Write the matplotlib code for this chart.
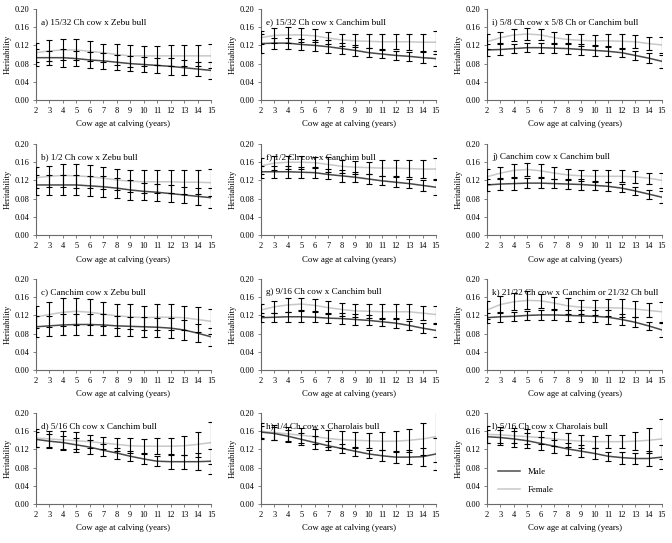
import matplotlib
matplotlib.use("Agg")
import matplotlib.pyplot as plt
from matplotlib.lines import Line2D

plt.rcParams['font.family'] = ['Liberation Serif', 'DejaVu Serif']

ages = [2, 3, 4, 5, 6, 7, 8, 9, 10, 11, 12, 13, 14, 15]
y_ticks = [0.00, 0.04, 0.08, 0.12, 0.16, 0.20]

# ---- a) ----
title_a = "a) 15/32 Ch cow x Zebu bull"
male_a = [0.093, 0.093, 0.093, 0.091, 0.088, 0.086, 0.083, 0.080, 0.078, 0.076, 0.074, 0.071, 0.068, 0.065]
female_a = [0.104, 0.108, 0.110, 0.110, 0.107, 0.104, 0.100, 0.097, 0.097, 0.097, 0.097, 0.097, 0.097, 0.097]
male_err_a = [0.019, 0.015, 0.020, 0.016, 0.017, 0.017, 0.016, 0.016, 0.016, 0.017, 0.018, 0.016, 0.016, 0.018]
female_err_a = [0.021, 0.023, 0.023, 0.023, 0.022, 0.020, 0.022, 0.024, 0.022, 0.021, 0.023, 0.023, 0.023, 0.027]

# ---- e) ----
title_e = "e) 15/32 Ch cow x Canchim bull"
male_e = [0.124, 0.125, 0.125, 0.122, 0.120, 0.117, 0.113, 0.109, 0.104, 0.101, 0.098, 0.096, 0.093, 0.091]
female_e = [0.137, 0.142, 0.143, 0.143, 0.141, 0.136, 0.132, 0.130, 0.129, 0.128, 0.128, 0.128, 0.127, 0.127]
male_err_e = [0.020, 0.012, 0.012, 0.012, 0.012, 0.014, 0.012, 0.012, 0.010, 0.009, 0.009, 0.010, 0.012, 0.016]
female_err_e = [0.015, 0.016, 0.017, 0.015, 0.014, 0.013, 0.014, 0.014, 0.015, 0.017, 0.017, 0.018, 0.019, 0.025]

# ---- i) ----
title_i = "i) 5/8 Ch cow x 5/8 Ch or Canchim bull"
male_i = [0.110, 0.111, 0.113, 0.115, 0.115, 0.114, 0.113, 0.111, 0.109, 0.107, 0.104, 0.098, 0.092, 0.085]
female_i = [0.128, 0.137, 0.143, 0.145, 0.143, 0.137, 0.133, 0.131, 0.130, 0.130, 0.129, 0.128, 0.124, 0.121]
male_err_i = [0.0125, 0.0115, 0.010, 0.0095, 0.011, 0.011, 0.012, 0.011, 0.0116, 0.011, 0.009, 0.010, 0.0114, 0.015]
female_err_i = [0.016, 0.0125, 0.014, 0.013, 0.012, 0.013, 0.011, 0.013, 0.012, 0.014, 0.015, 0.014, 0.015, 0.017]

# ---- b) ----
title_b = "b) 1/2 Ch cow x Zebu bull"
male_b = [0.110, 0.110, 0.110, 0.110, 0.108, 0.106, 0.103, 0.099, 0.096, 0.094, 0.091, 0.088, 0.085, 0.082]
female_b = [0.126, 0.129, 0.131, 0.130, 0.128, 0.125, 0.121, 0.118, 0.117, 0.117, 0.117, 0.116, 0.116, 0.115]
male_err_b = [0.022, 0.022, 0.022, 0.022, 0.022, 0.023, 0.022, 0.021, 0.019, 0.019, 0.019, 0.018, 0.019, 0.022]
female_err_b = [0.023, 0.023, 0.026, 0.027, 0.025, 0.024, 0.023, 0.024, 0.025, 0.025, 0.025, 0.026, 0.026, 0.029]

# ---- f) ----
title_f = "f) 1/2 Ch cow x Canchim bull"
male_f = [0.139, 0.139, 0.139, 0.138, 0.137, 0.133, 0.130, 0.127, 0.123, 0.119, 0.116, 0.113, 0.109, 0.105]
female_f = [0.152, 0.158, 0.160, 0.160, 0.159, 0.155, 0.151, 0.149, 0.148, 0.147, 0.147, 0.146, 0.145, 0.145]
male_err_f = [0.013, 0.013, 0.013, 0.012, 0.0125, 0.011, 0.013, 0.011, 0.012, 0.010, 0.011, 0.010, 0.012, 0.017]
female_err_f = [0.018, 0.016, 0.014, 0.014, 0.012, 0.016, 0.014, 0.014, 0.013, 0.017, 0.017, 0.018, 0.019, 0.0235]

# ---- j) ----
title_j = "j) Canchim cow x Canchim bull"
male_j = [0.110, 0.112, 0.113, 0.114, 0.114, 0.113, 0.112, 0.111, 0.109, 0.107, 0.103, 0.097, 0.090, 0.083]
female_j = [0.128, 0.136, 0.142, 0.144, 0.141, 0.136, 0.132, 0.130, 0.129, 0.129, 0.129, 0.128, 0.125, 0.120]
male_err_j = [0.0125, 0.013, 0.013, 0.011, 0.011, 0.010, 0.011, 0.012, 0.010, 0.0095, 0.009, 0.009, 0.010, 0.0134]
female_err_j = [0.016, 0.0135, 0.015, 0.014, 0.014, 0.014, 0.012, 0.012, 0.013, 0.013, 0.013, 0.013, 0.012, 0.017]

# ---- c) ----
title_c = "c) Canchim cow x Zebu bull"
male_c = [0.095, 0.097, 0.099, 0.100, 0.100, 0.099, 0.097, 0.096, 0.095, 0.094, 0.092, 0.088, 0.081, 0.073]
female_c = [0.1165, 0.122, 0.127, 0.129, 0.127, 0.123, 0.119, 0.117, 0.115, 0.116, 0.116, 0.115, 0.111, 0.107]
male_err_c = [0.023, 0.022, 0.023, 0.024, 0.024, 0.023, 0.022, 0.021, 0.022, 0.021, 0.022, 0.022, 0.020, 0.020]
female_err_c = [0.024, 0.028, 0.031, 0.029, 0.028, 0.026, 0.026, 0.027, 0.026, 0.028, 0.028, 0.026, 0.027, 0.027]

# ---- g) ----
title_g = "g) 9/16 Ch cow x Canchim bull"
male_g = [0.115, 0.116, 0.117, 0.117, 0.116, 0.114, 0.113, 0.111, 0.109, 0.106, 0.103, 0.098, 0.092, 0.087]
female_g = [0.132, 0.139, 0.143, 0.145, 0.142, 0.137, 0.133, 0.130, 0.129, 0.128, 0.128, 0.128, 0.125, 0.122]
male_err_g = [0.010, 0.010, 0.011, 0.012, 0.011, 0.0114, 0.012, 0.011, 0.011, 0.009, 0.0114, 0.010, 0.011, 0.014]
female_err_g = [0.0135, 0.013, 0.0145, 0.013, 0.013, 0.014, 0.0135, 0.014, 0.015, 0.016, 0.016, 0.016, 0.016, 0.019]

# ---- k) ----
title_k = "k) 21/32 Ch cow x Canchim or 21/32 Ch bull"
male_k = [0.115, 0.117, 0.118, 0.120, 0.121, 0.121, 0.120, 0.119, 0.118, 0.116, 0.111, 0.105, 0.097, 0.088]
female_k = [0.132, 0.144, 0.150, 0.153, 0.152, 0.147, 0.141, 0.138, 0.137, 0.137, 0.136, 0.134, 0.131, 0.128]
male_err_k = [0.011, 0.011, 0.010, 0.010, 0.011, 0.011, 0.012, 0.0135, 0.013, 0.015, 0.012, 0.011, 0.009, 0.015]
female_err_k = [0.019, 0.018, 0.0185, 0.020, 0.015, 0.013, 0.018, 0.016, 0.017, 0.018, 0.019, 0.018, 0.0155, 0.0215]

# ---- d) ----
title_d = "d) 5/16 Ch cow x Canchim bull"
male_d = [0.142, 0.138, 0.135, 0.130, 0.125, 0.118, 0.112, 0.105, 0.099, 0.094, 0.093, 0.093, 0.093, 0.094]
female_d = [0.145, 0.143, 0.141, 0.139, 0.137, 0.134, 0.131, 0.128, 0.127, 0.127, 0.127, 0.128, 0.131, 0.135]
male_err_d = [0.017, 0.016, 0.0155, 0.015, 0.015, 0.013, 0.012, 0.0105, 0.0104, 0.0106, 0.015, 0.015, 0.018, 0.027]
female_err_d = [0.020, 0.018, 0.020, 0.0185, 0.015, 0.014, 0.015, 0.016, 0.0155, 0.0176, 0.0176, 0.021, 0.028, 0.046]

# ---- h) ----
title_h = "h) 1/4 Ch cow x Charolais bull"
male_h = [0.158, 0.155, 0.149, 0.142, 0.135, 0.128, 0.122, 0.116, 0.110, 0.106, 0.103, 0.103, 0.104, 0.110]
female_h = [0.160, 0.157, 0.154, 0.151, 0.148, 0.144, 0.141, 0.140, 0.139, 0.138, 0.138, 0.140, 0.143, 0.148]
male_err_h = [0.014, 0.014, 0.013, 0.013, 0.0134, 0.010, 0.010, 0.010, 0.008, 0.012, 0.012, 0.015, 0.020, 0.0345]
female_err_h = [0.017, 0.017, 0.016, 0.016, 0.016, 0.018, 0.019, 0.018, 0.017, 0.020, 0.022, 0.025, 0.036, 0.056]

# ---- l) ----
title_l = "l) 5/16 Ch cow x Charolais bull"
male_l = [0.148, 0.146, 0.143, 0.139, 0.133, 0.127, 0.121, 0.116, 0.111, 0.105, 0.102, 0.100, 0.100, 0.103]
female_l = [0.153, 0.152, 0.150, 0.148, 0.146, 0.143, 0.140, 0.138, 0.137, 0.137, 0.137, 0.138, 0.140, 0.143]
male_err_l = [0.015, 0.016, 0.017, 0.017, 0.015, 0.014, 0.013, 0.013, 0.012, 0.010, 0.013, 0.012, 0.0165, 0.027]
female_err_l = [0.018, 0.018, 0.017, 0.017, 0.015, 0.0145, 0.015, 0.014, 0.013, 0.015, 0.015, 0.0195, 0.027, 0.044]

panels = [
    [(title_a, male_a, female_a, male_err_a, female_err_a),
     (title_e, male_e, female_e, male_err_e, female_err_e),
     (title_i, male_i, female_i, male_err_i, female_err_i)],
    [(title_b, male_b, female_b, male_err_b, female_err_b),
     (title_f, male_f, female_f, male_err_f, female_err_f),
     (title_j, male_j, female_j, male_err_j, female_err_j)],
    [(title_c, male_c, female_c, male_err_c, female_err_c),
     (title_g, male_g, female_g, male_err_g, female_err_g),
     (title_k, male_k, female_k, male_err_k, female_err_k)],
    [(title_d, male_d, female_d, male_err_d, female_err_d),
     (title_h, male_h, female_h, male_err_h, female_err_h),
     (title_l, male_l, female_l, male_err_l, female_err_l)],
]

W, H = 672, 543
fig = plt.figure(figsize=(W / 100, H / 100), dpi=100)

col_left = [36, 261, 487]
col_w = 175
row_top = [9, 144, 279, 413]
row_h = 91

male_color = "#4a4a4a"
female_color = "#c8c8c8"
axis_color = "#6a6a6a"

for r in range(4):
    for c in range(3):
        title, male, female, merr, ferr = panels[r][c]
        left = col_left[c] / W
        bottom = 1 - (row_top[r] + row_h) / H
        ax = fig.add_axes([left, bottom, col_w / W, row_h / H])
        ax.plot(ages, female, color=female_color, lw=1.1, zorder=2)
        ax.plot(ages, male, color=male_color, lw=1.1, zorder=2)
        ax.errorbar(ages, female, yerr=ferr, fmt='none', ecolor='black',
                    elinewidth=0.8, capsize=2.4, capthick=0.8, zorder=3)
        ax.errorbar(ages, male, yerr=merr, fmt='none', ecolor='black',
                    elinewidth=0.8, capsize=2.4, capthick=0.8, zorder=3)
        ax.set_xlim(2, 15)
        ax.set_ylim(0, 0.20)
        ax.set_xticks(ages)
        ax.set_xticklabels([str(a) for a in ages])
        ax.set_yticks(y_ticks)
        ax.set_yticklabels([f"{v:.2f}" for v in y_ticks])
        for s in ['top', 'right']:
            ax.spines[s].set_visible(False)
        for s in ['left', 'bottom']:
            ax.spines[s].set_color(axis_color)
            ax.spines[s].set_linewidth(0.8)
        ax.tick_params(axis='both', labelsize=6, length=2, width=0.6,
                       color=axis_color, pad=3, direction='out')
        ax.set_xlabel("Cow age at calving (years)", fontsize=6.3, labelpad=4)
        ax.set_ylabel("Heritability", fontsize=6, labelpad=2)
        ax.text(0.03, 0.855, title, transform=ax.transAxes, fontsize=6.6,
                va='center', ha='left', zorder=4)
        if r == 3 and c == 2:
            handles = [Line2D([0], [0], color=male_color, lw=1.1),
                       Line2D([0], [0], color=female_color, lw=1.1)]
            ax.legend(handles, ["Male", "Female"], loc='lower left',
                      bbox_to_anchor=(0.02, 0.02), frameon=False, fontsize=6.3,
                      handlelength=2.5, labelspacing=1.2)

fig.savefig("out.png", dpi=100)
